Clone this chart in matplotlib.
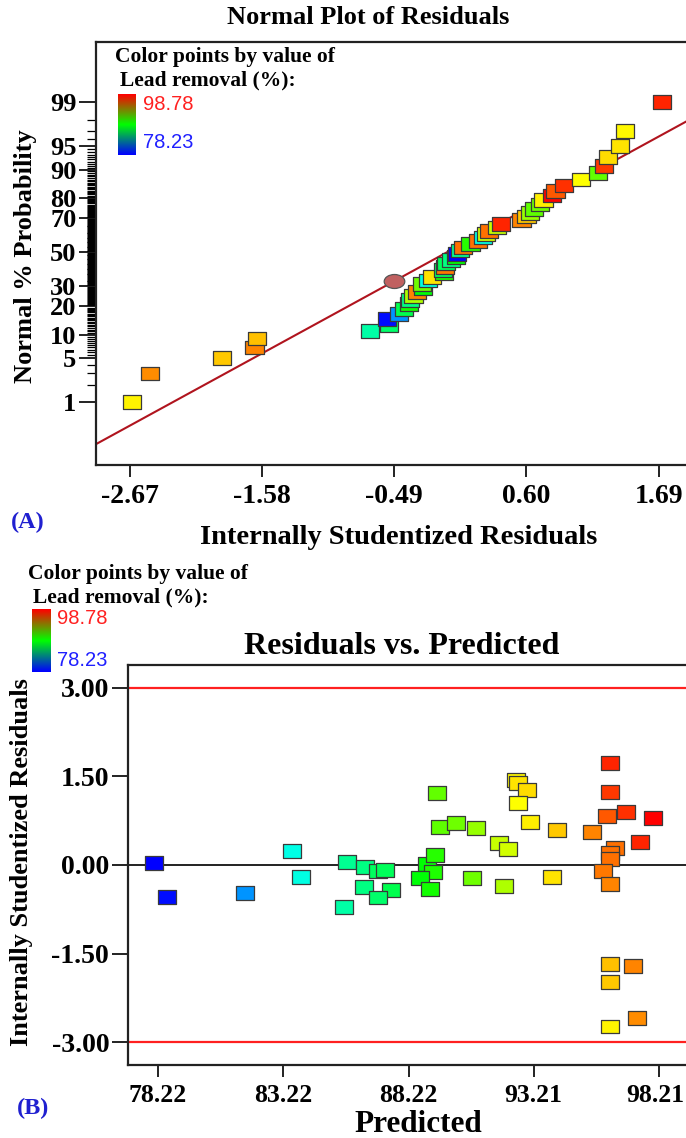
import numpy as np
import matplotlib
matplotlib.use("Agg")
import matplotlib.pyplot as plt
from matplotlib.colors import LinearSegmentedColormap, Normalize
from matplotlib.path import Path
from matplotlib.transforms import Affine2D, ScaledTranslation
from statistics import NormalDist

# ---------------- data ----------------
# (A) normal plot: points in rank order
norm_resid = [-2.65, -2.50, -1.91, -1.64, -1.62, -0.69, -0.53, -0.55, -0.45, -0.41,
              -0.37, -0.36, -0.33, -0.30, -0.25, -0.26, -0.21, -0.18, -0.08, -0.09,
              -0.07, -0.06, -0.02, 0.02, 0.03, 0.05, 0.08, 0.14, 0.20, 0.24,
              0.27, 0.29, 0.36, 0.39, 0.56, 0.60, 0.63, 0.66, 0.71, 0.74,
              0.81, 0.84, 0.91, 1.05, 1.19, 1.24, 1.27, 1.37, 1.41, 1.72]
norm_prob = [1, 3, 5, 7, 9, 11, 13, 15, 17, 19,
             21, 23, 25, 27, 29, 31, 33, 35, 37, 39,
             41, 43, 45, 47, 49, 51, 53, 55, 57, 59,
             61, 63, 65, 67, 69, 71, 73, 75, 77, 79,
             81, 83, 85, 87, 89, 91, 93, 95, 97, 99]
norm_removal = [93.85, 95.9, 94.7, 96.1, 94.9, 85.2, 86.4, 78.5, 81.25, 86.9,
                88.9, 85.9, 92.0, 96.1, 88.4, 90.7, 84.0, 94.2, 89.1, 86.6,
                96.3, 86.7, 85.9, 88.5, 78.23, 85.6, 96.5, 89.3, 96.5, 83.9,
                92.7, 96.5, 92.5, 98.0, 96.1, 94.7, 91.5, 90.4, 90.7, 93.95,
                98.78, 97.0, 97.8, 93.6, 90.5, 97.6, 94.3, 94.2, 93.8, 98.0]
fit_slope = 1.029
fit_icept = 0.055
marked_resid = -0.49

# (B) residuals vs predicted
pred = [78.06, 78.58, 81.69, 83.57, 83.93, 85.76, 86.48, 87.00, 87.28, 86.44,
        87.52, 86.99, 85.64, 88.95, 89.27, 89.19, 88.67, 89.07, 89.35, 89.47,
        90.11, 90.91, 90.75, 91.83, 92.19, 92.03, 92.51, 92.59, 92.95, 92.59,
        93.06, 93.94, 94.14, 95.54, 96.26, 96.26, 96.14, 96.90, 97.97, 97.45,
        96.46, 96.26, 96.26, 95.98, 96.26, 96.26, 97.18, 96.26, 97.33, 96.26]
resid = [0.03, -0.54, -0.47, 0.24, -0.20, 0.05, -0.03, -0.10, -0.08, -0.37,
         -0.42, -0.55, -0.71, 0.02, 0.17, -0.12, -0.22, -0.41, 1.22, 0.64,
         0.71, 0.63, -0.22, 0.37, 0.27, -0.36, 1.44, 1.39, 1.27, 1.05,
         0.73, -0.20, 0.59, 0.56, 1.73, 1.24, 0.83, 0.90, 0.80, 0.39,
         0.29, 0.20, 0.10, -0.10, -0.32, -1.68, -1.71, -1.98, -2.59, -2.73]
removal = [78.23, 78.5, 81.25, 83.9, 84.0, 85.6, 85.9, 86.6, 86.7, 85.9,
           86.9, 86.4, 85.2, 88.5, 89.3, 89.1, 88.4, 88.9, 90.5, 90.4,
           90.7, 91.5, 90.7, 92.5, 92.7, 92.0, 93.8, 94.2, 94.3, 93.6,
           93.95, 94.2, 94.7, 96.1, 98.0, 97.6, 97.0, 97.8, 98.78, 98.0,
           96.5, 96.5, 96.5, 96.3, 96.1, 94.9, 96.1, 94.7, 95.9, 93.85]

removal_min, removal_max = 78.23, 98.78
prob_ticks = [1, 5, 10, 20, 30, 50, 70, 80, 90, 95, 99]
prob_minor = [2, 3, 4] + [p / 2 for p in range(11, 190)] + [96, 97, 98]
norm_xticks = [-2.67, -1.58, -0.49, 0.60, 1.69]
pred_xticks = [78.22, 83.22, 88.22, 93.21, 98.21]
resid_yticks = [-3.0, -1.5, 0.0, 1.5, 3.0]

# ---------------- styling ----------------
W, H = 686, 1138
SERIF = "Liberation Serif"
SANS = "Liberation Sans"

point_cmap = LinearSegmentedColormap.from_list(
    "de_rainbow", ["#0000ff", "#00ffff", "#00ff00", "#ffff00", "#ff0000"])
legend_cmap = LinearSegmentedColormap.from_list(
    "de_legend", ["#0000ff", "#00ff00", "#ff0000"])
norm = Normalize(removal_min, removal_max)

rect = Path([(-1, -0.75), (1, -0.75), (1, 0.75), (-1, 0.75), (-1, -0.75)],
            [Path.MOVETO, Path.LINETO, Path.LINETO, Path.LINETO, Path.CLOSEPOLY])
oval = Path.unit_circle().transformed(Affine2D().scale(1, 0.68))

_nd = NormalDist()
_inv = np.vectorize(lambda v: _nd.inv_cdf(v / 100.0), otypes=[float])
_cdf = np.vectorize(lambda v: _nd.cdf(v) * 100.0, otypes=[float])


def to_z(p):
    return _inv(np.clip(np.asarray(p, float), 1e-7, 100 - 1e-7))


def to_p(z):
    return _cdf(np.asarray(z, float))


def fx(px):
    return px / W


def fy(py):
    return 1 - py / H


def bold(x, y, s, size, **kw):
    fig.text(fx(x), fy(y), s, fontsize=size, fontweight="bold", family=SERIF,
             ha=kw.pop("ha", "center"), va=kw.pop("va", "center"), **kw)


def legend(x0, y0, bar_x, bar_y0, bar_y1, num_x):
    fig.text(fx(x0), fy(y0), "Color points by value of", fontsize=15.5,
             fontweight="bold", family=SERIF, ha="left", va="center")
    fig.text(fx(x0 + 5), fy(y0 + 23), "Lead removal (%):", fontsize=15.5,
             fontweight="bold", family=SERIF, ha="left", va="center")
    cax = fig.add_axes([fx(bar_x[0]), fy(bar_y1), (bar_x[1] - bar_x[0]) / W,
                        (bar_y1 - bar_y0) / H])
    cax.imshow(np.linspace(1, 0, 100)[:, None], cmap=legend_cmap, aspect="auto")
    cax.set_xticks([])
    cax.set_yticks([])
    for s in cax.spines.values():
        s.set_visible(False)
    fig.text(fx(num_x), fy(bar_y0 + 10), f"{removal_max:.2f}", fontsize=14.5,
             family=SANS, color="#ff2020", ha="left", va="center")
    fig.text(fx(num_x), fy(bar_y1 - 12), f"{removal_min:.2f}", fontsize=14.5,
             family=SANS, color="#2020ff", ha="left", va="center")


def style_axes(ax):
    for side in ["left", "bottom", "top"]:
        ax.spines[side].set_linewidth(1.6)
        ax.spines[side].set_color("#222222")
    ax.spines["right"].set_visible(False)
    for lab in ax.get_xticklabels() + ax.get_yticklabels():
        lab.set_fontweight("bold")
        lab.set_family(SERIF)


fig = plt.figure(figsize=(W / 100, H / 100), dpi=100)

# ---------------- (A) normal plot ----------------
axA = fig.add_axes([fx(96), fy(465), (700 - 96) / W, (465 - 42) / H])
axA.set_yscale("function", functions=(to_z, to_p))
axA.set_xlim(-2.946, 2.03)
axA.set_ylim(to_p(-3.30), to_p(3.26))

fit_ends = np.array([-3.5, 2.5])
axA.plot(fit_ends, to_p(fit_slope * fit_ends + fit_icept), color="#b0141e", lw=1.5,
         zorder=2)
axA.scatter(norm_resid, norm_prob, c=norm_removal, cmap=point_cmap, norm=norm,
            marker=rect, s=172, edgecolors="#3a3a3a", linewidths=0.9, zorder=3)
axA.scatter([marked_resid], to_p([fit_slope * marked_resid + fit_icept]),
            marker=oval, s=220, color="#c06060", edgecolors="#555555",
            linewidths=0.9, zorder=4)

axA.set_yticks(prob_ticks)
axA.set_yticklabels([str(p) for p in prob_ticks])
axA.set_yticks([p for p in prob_minor if p not in prob_ticks], minor=True)
axA.yaxis.set_minor_formatter(plt.NullFormatter())
axA.set_xticks(norm_xticks)
axA.set_xticklabels([f"{t:.2f}" for t in norm_xticks])
axA.tick_params(axis="y", which="major", length=12, width=1.3, pad=2,
                labelsize=19, color="#111111")
axA.tick_params(axis="y", which="minor", length=6.5, width=0.9, color="#000000")
axA.tick_params(axis="x", which="major", length=8.5, width=1.3, pad=5,
                labelsize=20, color="#111111")
axA.tick_params(axis="x", which="minor", bottom=False)
style_axes(axA)

bold(368, 18, "Normal Plot of Residuals", 19)
bold(26, 256, "Normal % Probability", 19, rotation=90)
bold(399, 537, "Internally Studentized Residuals", 20.5)
bold(28, 522, "(A)", 17.5, color="#2020d0")
legend(115, 57, (118, 136), 94, 155, 143)

# ---------------- (B) residuals vs predicted ----------------
axB = fig.add_axes([fx(128), fy(1065), (700 - 128) / W, (1065 - 665) / H])
axB.set_xlim(77.02, 99.85)
axB.set_ylim(-3.384, 3.384)
axB.axhline(3.0, color="#ff2020", lw=1.6, zorder=1)
axB.axhline(-3.0, color="#ff2020", lw=1.6, zorder=1)
axB.axhline(0.0, color="#111111", lw=1.3, zorder=1)
axB.scatter(pred, resid, c=removal, cmap=point_cmap, norm=norm, marker=rect,
            s=172, edgecolors="#3a3a3a", linewidths=0.9, zorder=3)
axB.set_xticks(pred_xticks)
axB.set_xticklabels([f"{t:.2f}" for t in pred_xticks])
axB.set_yticks(resid_yticks)
axB.set_yticklabels([f"{t:.2f}" for t in resid_yticks])
axB.tick_params(axis="y", length=11.5, width=1.3, pad=2, labelsize=20,
                color="#111111")
axB.tick_params(axis="x", length=8.5, width=1.3, pad=5, labelsize=18.5,
                color="#111111")
style_axes(axB)
# keep the last tick label inside the canvas
last = axB.get_xticklabels()[-1]
last.set_transform(last.get_transform() + ScaledTranslation(-4 / 100, 0, fig.dpi_scale_trans))

bold(402, 647, "Residuals vs. Predicted", 23)
bold(22, 862, "Internally Studentized Residuals", 19, rotation=90)
bold(418, 1125, "Predicted", 22.5)
bold(33, 1108, "(B)", 17.5, color="#2020d0")
legend(28, 574, (32, 51), 609, 672, 57)

fig.savefig("out.png", dpi=100)
